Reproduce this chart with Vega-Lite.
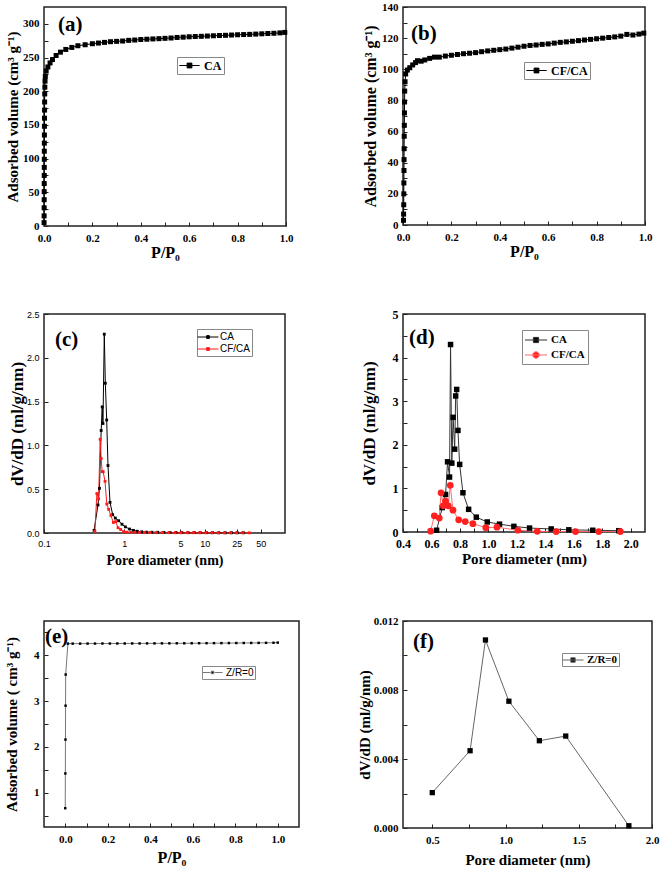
{
 "$schema": "https://vega.github.io/schema/vega-lite/v6.json",
 "background": "white",
 "padding": {"left": 3, "top": 0, "right": 0, "bottom": 0},
 "columns": 2,
 "align": "none",
 "bounds": "flush",
 "spacing": {"row": 88, "column": 104},
 "resolve": {"scale": {"x": "independent", "y": "independent", "color": "independent"}, "axis": {"x": "independent", "y": "independent"}, "legend": {"color": "independent"}},
 "config": {
  "view": {"stroke": "#222", "strokeWidth": 1.5},
  "axis": {"domain": false, "grid": false, "ticks": true, "tickSize": -4, "tickColor": "#222", "tickWidth": 1, "labelFlush": false,
   "labelFont": "Liberation Serif", "labelFontWeight": "bold", "labelFontSize": 11, "labelColor": "black", "labelPadding": 9,
   "titleFont": "Liberation Serif", "titleFontWeight": "bold", "titleColor": "black", "titleFontSize": 16},
  "axisX": {"labelPadding": 10},
  "legend": {"strokeColor": "#888", "fillColor": "white", "padding": 2, "labelFont": "Liberation Serif", "labelFontWeight": "bold", "labelFontSize": 12, "labelColor": "black", "symbolSize": 144, "symbolOffset": 4, "labelOffset": 8, "rowPadding": 2},
  "title": {"anchor": "start", "frame": "group", "baseline": "top", "font": "Liberation Serif", "fontWeight": "bold", "fontSize": 21, "color": "black", "offset": -28, "dx": 14}
 },
 "datasets": {
  "a": [
   {"p": 0.0003, "v": 5, "s": "CA"}, {"p": 0.0005, "v": 15, "s": "CA"}, {"p": 0.0006, "v": 27, "s": "CA"}, {"p": 0.0007, "v": 39, "s": "CA"},
   {"p": 0.0008, "v": 51, "s": "CA"}, {"p": 0.0009, "v": 63, "s": "CA"}, {"p": 0.001, "v": 75, "s": "CA"}, {"p": 0.0011, "v": 87, "s": "CA"},
   {"p": 0.0012, "v": 99, "s": "CA"}, {"p": 0.0013, "v": 111, "s": "CA"}, {"p": 0.0014, "v": 123, "s": "CA"}, {"p": 0.0016, "v": 135, "s": "CA"},
   {"p": 0.0018, "v": 148, "s": "CA"}, {"p": 0.002, "v": 160, "s": "CA"}, {"p": 0.0023, "v": 172, "s": "CA"}, {"p": 0.0026, "v": 184, "s": "CA"},
   {"p": 0.003, "v": 196, "s": "CA"}, {"p": 0.0035, "v": 206, "s": "CA"}, {"p": 0.0042, "v": 215, "s": "CA"}, {"p": 0.0055, "v": 222, "s": "CA"},
   {"p": 0.009, "v": 230, "s": "CA"}, {"p": 0.016, "v": 236, "s": "CA"}, {"p": 0.025, "v": 242, "s": "CA"}, {"p": 0.035, "v": 247, "s": "CA"},
   {"p": 0.05, "v": 253, "s": "CA"}, {"p": 0.068, "v": 258, "s": "CA"}, {"p": 0.09, "v": 262, "s": "CA"}, {"p": 0.115, "v": 265, "s": "CA"},
   {"p": 0.14, "v": 267.5, "s": "CA"}, {"p": 0.17, "v": 269, "s": "CA"}, {"p": 0.2, "v": 270.5, "s": "CA"}, {"p": 0.225, "v": 271.5, "s": "CA"},
   {"p": 0.25, "v": 272.5, "s": "CA"}, {"p": 0.275, "v": 273.5, "s": "CA"}, {"p": 0.3, "v": 274, "s": "CA"}, {"p": 0.325, "v": 274.5, "s": "CA"},
   {"p": 0.35, "v": 275.5, "s": "CA"}, {"p": 0.375, "v": 276, "s": "CA"}, {"p": 0.4, "v": 276.8, "s": "CA"}, {"p": 0.425, "v": 277.2, "s": "CA"},
   {"p": 0.45, "v": 277.6, "s": "CA"}, {"p": 0.475, "v": 278, "s": "CA"}, {"p": 0.5, "v": 278.5, "s": "CA"}, {"p": 0.525, "v": 279, "s": "CA"},
   {"p": 0.55, "v": 279.8, "s": "CA"}, {"p": 0.575, "v": 280.2, "s": "CA"}, {"p": 0.6, "v": 280.8, "s": "CA"}, {"p": 0.625, "v": 281.2, "s": "CA"},
   {"p": 0.65, "v": 281.5, "s": "CA"}, {"p": 0.675, "v": 281.9, "s": "CA"}, {"p": 0.7, "v": 282.3, "s": "CA"}, {"p": 0.725, "v": 282.7, "s": "CA"},
   {"p": 0.75, "v": 283, "s": "CA"}, {"p": 0.775, "v": 283.4, "s": "CA"}, {"p": 0.8, "v": 283.8, "s": "CA"}, {"p": 0.825, "v": 284.1, "s": "CA"},
   {"p": 0.85, "v": 284.4, "s": "CA"}, {"p": 0.875, "v": 284.8, "s": "CA"}, {"p": 0.9, "v": 285.2, "s": "CA"}, {"p": 0.925, "v": 285.7, "s": "CA"},
   {"p": 0.95, "v": 286, "s": "CA"}, {"p": 0.975, "v": 286.6, "s": "CA"}, {"p": 0.995, "v": 287.3, "s": "CA"}
  ],
  "b": [
   {"p": 0.002, "v": 3, "s": "CF/CA"}, {"p": 0.0025, "v": 7, "s": "CF/CA"}, {"p": 0.003, "v": 13, "s": "CF/CA"}, {"p": 0.0033, "v": 20, "s": "CF/CA"},
   {"p": 0.0036, "v": 27, "s": "CF/CA"}, {"p": 0.004, "v": 35, "s": "CF/CA"}, {"p": 0.0043, "v": 42, "s": "CF/CA"}, {"p": 0.0046, "v": 49, "s": "CF/CA"},
   {"p": 0.005, "v": 57, "s": "CF/CA"}, {"p": 0.0055, "v": 64, "s": "CF/CA"}, {"p": 0.006, "v": 72, "s": "CF/CA"}, {"p": 0.0065, "v": 79, "s": "CF/CA"},
   {"p": 0.007, "v": 86, "s": "CF/CA"}, {"p": 0.0085, "v": 92, "s": "CF/CA"}, {"p": 0.011, "v": 97, "s": "CF/CA"}, {"p": 0.018, "v": 99.5, "s": "CF/CA"},
   {"p": 0.028, "v": 101, "s": "CF/CA"}, {"p": 0.04, "v": 102.8, "s": "CF/CA"}, {"p": 0.052, "v": 104.3, "s": "CF/CA"}, {"p": 0.06, "v": 105.5, "s": "CF/CA"},
   {"p": 0.075, "v": 105.2, "s": "CF/CA"}, {"p": 0.09, "v": 106, "s": "CF/CA"}, {"p": 0.11, "v": 107, "s": "CF/CA"}, {"p": 0.13, "v": 107.8, "s": "CF/CA"},
   {"p": 0.15, "v": 107.8, "s": "CF/CA"}, {"p": 0.175, "v": 108.5, "s": "CF/CA"}, {"p": 0.2, "v": 109, "s": "CF/CA"}, {"p": 0.225, "v": 109.5, "s": "CF/CA"},
   {"p": 0.25, "v": 110, "s": "CF/CA"}, {"p": 0.275, "v": 110.3, "s": "CF/CA"}, {"p": 0.3, "v": 110.7, "s": "CF/CA"}, {"p": 0.325, "v": 111.3, "s": "CF/CA"},
   {"p": 0.35, "v": 111.8, "s": "CF/CA"}, {"p": 0.375, "v": 112.2, "s": "CF/CA"}, {"p": 0.4, "v": 112.6, "s": "CF/CA"}, {"p": 0.425, "v": 113, "s": "CF/CA"},
   {"p": 0.45, "v": 113.6, "s": "CF/CA"}, {"p": 0.475, "v": 114.2, "s": "CF/CA"}, {"p": 0.5, "v": 114.8, "s": "CF/CA"}, {"p": 0.525, "v": 115.3, "s": "CF/CA"},
   {"p": 0.55, "v": 115.6, "s": "CF/CA"}, {"p": 0.575, "v": 116, "s": "CF/CA"}, {"p": 0.6, "v": 116.3, "s": "CF/CA"}, {"p": 0.625, "v": 116.8, "s": "CF/CA"},
   {"p": 0.65, "v": 117.3, "s": "CF/CA"}, {"p": 0.675, "v": 117.6, "s": "CF/CA"}, {"p": 0.7, "v": 118, "s": "CF/CA"}, {"p": 0.725, "v": 118.4, "s": "CF/CA"},
   {"p": 0.75, "v": 118.8, "s": "CF/CA"}, {"p": 0.775, "v": 119.2, "s": "CF/CA"}, {"p": 0.8, "v": 119.6, "s": "CF/CA"}, {"p": 0.825, "v": 120, "s": "CF/CA"},
   {"p": 0.85, "v": 120.4, "s": "CF/CA"}, {"p": 0.875, "v": 120.8, "s": "CF/CA"}, {"p": 0.9, "v": 121.3, "s": "CF/CA"}, {"p": 0.925, "v": 122.4, "s": "CF/CA"},
   {"p": 0.95, "v": 122, "s": "CF/CA"}, {"p": 0.975, "v": 122.6, "s": "CF/CA"}, {"p": 0.995, "v": 123.2, "s": "CF/CA"}
  ],
  "c": [
   {"d": 0.42, "v": 0.03, "s": "CA"}, {"d": 0.47, "v": 0.32, "s": "CA"}, {"d": 0.49, "v": 0.51, "s": "CA"}, {"d": 0.515, "v": 1.17, "s": "CA"},
   {"d": 0.53, "v": 1.44, "s": "CA"}, {"d": 0.542, "v": 1.25, "s": "CA"}, {"d": 0.563, "v": 2.27, "s": "CA"}, {"d": 0.58, "v": 1.71, "s": "CA"},
   {"d": 0.603, "v": 1.29, "s": "CA"}, {"d": 0.626, "v": 0.77, "s": "CA"}, {"d": 0.663, "v": 0.35, "s": "CA"}, {"d": 0.716, "v": 0.21, "s": "CA"},
   {"d": 0.773, "v": 0.17, "s": "CA"}, {"d": 0.85, "v": 0.14, "s": "CA"}, {"d": 0.935, "v": 0.1, "s": "CA"}, {"d": 1.03, "v": 0.07, "s": "CA"},
   {"d": 1.16, "v": 0.045, "s": "CA"}, {"d": 1.3, "v": 0.03, "s": "CA"}, {"d": 1.45, "v": 0.02, "s": "CA"}, {"d": 1.64, "v": 0.013, "s": "CA"},
   {"d": 1.88, "v": 0.01, "s": "CA"}, {"d": 2.2, "v": 0.009, "s": "CA"}, {"d": 2.6, "v": 0.008, "s": "CA"}, {"d": 3.1, "v": 0.007, "s": "CA"},
   {"d": 3.7, "v": 0.006, "s": "CA"}, {"d": 4.4, "v": 0.006, "s": "CA"}, {"d": 5.2, "v": 0.005, "s": "CA"}, {"d": 6.2, "v": 0.005, "s": "CA"},
   {"d": 7.4, "v": 0.005, "s": "CA"}, {"d": 8.8, "v": 0.004, "s": "CA"}, {"d": 10.5, "v": 0.004, "s": "CA"}, {"d": 12.5, "v": 0.004, "s": "CA"},
   {"d": 15, "v": 0.003, "s": "CA"}, {"d": 18, "v": 0.003, "s": "CA"}, {"d": 21.5, "v": 0.003, "s": "CA"}, {"d": 25.5, "v": 0.003, "s": "CA"},
   {"d": 30.3, "v": 0.003, "s": "CA"},
   {"d": 0.43, "v": 0.02, "s": "CF/CA"}, {"d": 0.455, "v": 0.45, "s": "CF/CA"}, {"d": 0.478, "v": 0.39, "s": "CF/CA"}, {"d": 0.5, "v": 1.07, "s": "CF/CA"},
   {"d": 0.515, "v": 0.85, "s": "CF/CA"}, {"d": 0.53, "v": 0.7, "s": "CF/CA"}, {"d": 0.545, "v": 0.7, "s": "CF/CA"}, {"d": 0.575, "v": 0.59, "s": "CF/CA"},
   {"d": 0.605, "v": 0.33, "s": "CF/CA"}, {"d": 0.638, "v": 0.27, "s": "CF/CA"}, {"d": 0.68, "v": 0.2, "s": "CF/CA"}, {"d": 0.73, "v": 0.12, "s": "CF/CA"},
   {"d": 0.78, "v": 0.13, "s": "CF/CA"}, {"d": 0.835, "v": 0.06, "s": "CF/CA"}, {"d": 0.9, "v": 0.04, "s": "CF/CA"}, {"d": 0.98, "v": 0.015, "s": "CF/CA"},
   {"d": 1.07, "v": 0.01, "s": "CF/CA"}, {"d": 1.2, "v": 0.008, "s": "CF/CA"}, {"d": 1.35, "v": 0.007, "s": "CF/CA"}, {"d": 1.55, "v": 0.006, "s": "CF/CA"},
   {"d": 1.8, "v": 0.005, "s": "CF/CA"}, {"d": 2.1, "v": 0.005, "s": "CF/CA"}, {"d": 2.5, "v": 0.004, "s": "CF/CA"}, {"d": 3.0, "v": 0.004, "s": "CF/CA"},
   {"d": 3.6, "v": 0.004, "s": "CF/CA"}, {"d": 4.3, "v": 0.003, "s": "CF/CA"}, {"d": 5.1, "v": 0.003, "s": "CF/CA"}, {"d": 6.1, "v": 0.003, "s": "CF/CA"},
   {"d": 7.3, "v": 0.003, "s": "CF/CA"}, {"d": 8.7, "v": 0.003, "s": "CF/CA"}, {"d": 10.4, "v": 0.003, "s": "CF/CA"}, {"d": 12.4, "v": 0.002, "s": "CF/CA"},
   {"d": 14.8, "v": 0.002, "s": "CF/CA"}, {"d": 17.7, "v": 0.002, "s": "CF/CA"}, {"d": 21, "v": 0.002, "s": "CF/CA"}, {"d": 25, "v": 0.002, "s": "CF/CA"},
   {"d": 29.8, "v": 0.002, "s": "CF/CA"}, {"d": 36, "v": 0.002, "s": "CF/CA"}
  ],
  "d": [
   {"d": 0.636, "v": 0.04, "s": "CA"}, {"d": 0.676, "v": 0.56, "s": "CA"}, {"d": 0.699, "v": 0.86, "s": "CA"}, {"d": 0.713, "v": 1.61, "s": "CA"},
   {"d": 0.727, "v": 1.26, "s": "CA"}, {"d": 0.734, "v": 4.3, "s": "CA"}, {"d": 0.743, "v": 1.58, "s": "CA"}, {"d": 0.752, "v": 2.63, "s": "CA"},
   {"d": 0.763, "v": 1.9, "s": "CA"}, {"d": 0.77, "v": 3.12, "s": "CA"}, {"d": 0.777, "v": 3.27, "s": "CA"}, {"d": 0.786, "v": 2.33, "s": "CA"},
   {"d": 0.798, "v": 1.55, "s": "CA"}, {"d": 0.821, "v": 0.9, "s": "CA"}, {"d": 0.861, "v": 0.52, "s": "CA"}, {"d": 0.915, "v": 0.34, "s": "CA"},
   {"d": 0.992, "v": 0.23, "s": "CA"}, {"d": 1.078, "v": 0.18, "s": "CA"}, {"d": 1.179, "v": 0.13, "s": "CA"}, {"d": 1.289, "v": 0.09, "s": "CA"},
   {"d": 1.441, "v": 0.07, "s": "CA"}, {"d": 1.565, "v": 0.05, "s": "CA"}, {"d": 1.733, "v": 0.04, "s": "CA"}, {"d": 1.916, "v": 0.03, "s": "CA"},
   {"d": 0.594, "v": 0.02, "s": "CF/CA"}, {"d": 0.62, "v": 0.37, "s": "CF/CA"}, {"d": 0.655, "v": 0.32, "s": "CF/CA"}, {"d": 0.667, "v": 0.9, "s": "CF/CA"},
   {"d": 0.683, "v": 0.6, "s": "CF/CA"}, {"d": 0.699, "v": 0.71, "s": "CF/CA"}, {"d": 0.718, "v": 0.6, "s": "CF/CA"}, {"d": 0.732, "v": 1.07, "s": "CF/CA"},
   {"d": 0.751, "v": 0.5, "s": "CF/CA"}, {"d": 0.791, "v": 0.28, "s": "CF/CA"}, {"d": 0.837, "v": 0.24, "s": "CF/CA"}, {"d": 0.891, "v": 0.19, "s": "CF/CA"},
   {"d": 0.982, "v": 0.1, "s": "CF/CA"}, {"d": 1.06, "v": 0.11, "s": "CF/CA"}, {"d": 1.207, "v": 0.04, "s": "CF/CA"}, {"d": 1.343, "v": 0.015, "s": "CF/CA"},
   {"d": 1.476, "v": 0.01, "s": "CF/CA"}, {"d": 1.612, "v": 0.01, "s": "CF/CA"}, {"d": 1.775, "v": 0.01, "s": "CF/CA"}, {"d": 1.927, "v": 0.01, "s": "CF/CA"}
  ],
  "e": [
   {"p": 0.0, "v": 0.66, "s": "Z/R=0"}, {"p": 0.0005, "v": 1.42, "s": "Z/R=0"}, {"p": 0.001, "v": 2.16, "s": "Z/R=0"}, {"p": 0.0015, "v": 2.9, "s": "Z/R=0"},
   {"p": 0.002, "v": 3.58, "s": "Z/R=0"}, {"p": 0.0125, "v": 4.256, "s": "Z/R=0"}, {"p": 0.035, "v": 4.256, "s": "Z/R=0"}, {"p": 0.07, "v": 4.256, "s": "Z/R=0"},
   {"p": 0.105, "v": 4.257, "s": "Z/R=0"}, {"p": 0.14, "v": 4.257, "s": "Z/R=0"}, {"p": 0.175, "v": 4.258, "s": "Z/R=0"}, {"p": 0.21, "v": 4.258, "s": "Z/R=0"},
   {"p": 0.245, "v": 4.259, "s": "Z/R=0"}, {"p": 0.28, "v": 4.259, "s": "Z/R=0"}, {"p": 0.315, "v": 4.26, "s": "Z/R=0"}, {"p": 0.35, "v": 4.26, "s": "Z/R=0"},
   {"p": 0.385, "v": 4.261, "s": "Z/R=0"}, {"p": 0.42, "v": 4.261, "s": "Z/R=0"}, {"p": 0.455, "v": 4.262, "s": "Z/R=0"}, {"p": 0.49, "v": 4.262, "s": "Z/R=0"},
   {"p": 0.525, "v": 4.263, "s": "Z/R=0"}, {"p": 0.56, "v": 4.263, "s": "Z/R=0"}, {"p": 0.595, "v": 4.264, "s": "Z/R=0"}, {"p": 0.63, "v": 4.265, "s": "Z/R=0"},
   {"p": 0.665, "v": 4.265, "s": "Z/R=0"}, {"p": 0.7, "v": 4.266, "s": "Z/R=0"}, {"p": 0.735, "v": 4.267, "s": "Z/R=0"}, {"p": 0.77, "v": 4.268, "s": "Z/R=0"},
   {"p": 0.805, "v": 4.269, "s": "Z/R=0"}, {"p": 0.84, "v": 4.27, "s": "Z/R=0"}, {"p": 0.875, "v": 4.271, "s": "Z/R=0"}, {"p": 0.91, "v": 4.272, "s": "Z/R=0"},
   {"p": 0.945, "v": 4.273, "s": "Z/R=0"}, {"p": 0.98, "v": 4.275, "s": "Z/R=0"}, {"p": 1.0, "v": 4.278, "s": "Z/R=0"}
  ],
  "f": [
   {"d": 0.5, "v": 0.00205, "s": "Z/R=0"}, {"d": 0.758, "v": 0.00448, "s": "Z/R=0"}, {"d": 0.863, "v": 0.0109, "s": "Z/R=0"},
   {"d": 1.023, "v": 0.00735, "s": "Z/R=0"}, {"d": 1.231, "v": 0.00506, "s": "Z/R=0"}, {"d": 1.411, "v": 0.00533, "s": "Z/R=0"},
   {"d": 1.842, "v": 0.00013, "s": "Z/R=0"}
  ]
 },
 "concat": [
  {
   "width": 242, "height": 219,
   "title": {"text": "(a)"},
   "data": {"name": "a"},
   "encoding": {
    "x": {"field": "p", "type": "quantitative", "scale": {"domain": [0, 1], "nice": false, "zero": false},
      "axis": {"title": "P/P₀", "values": [0, 0.1, 0.2, 0.3, 0.4, 0.5, 0.6, 0.7, 0.8, 0.9, 1.0], "labelExpr": "round(datum.value*10)%2==0 ? format(datum.value, '.1f') : ''", "titlePadding": 1}},
    "y": {"field": "v", "type": "quantitative", "scale": {"domain": [0, 325], "nice": false},
      "axis": {"title": "Adsorbed volume (cm³ g⁻¹)", "values": [0, 25, 50, 75, 100, 125, 150, 175, 200, 225, 250, 275, 300], "labelExpr": "datum.value%50==0 ? '' + datum.value : ''", "titlePadding": 2, "titleFontSize": 15}}
   },
   "layer": [
    {"mark": {"type": "line", "strokeWidth": 1},
     "encoding": {"color": {"field": "s", "type": "nominal", "scale": {"domain": ["CA"], "range": ["black"]},
       "legend": {"title": null, "orient": "none", "legendX": 133, "legendY": 50,
        "encode": {"symbols": {"update": {"shape": {"value": "M-1.7,0H1.7M-0.4,-0.4H0.4V0.4H-0.4Z"}, "fill": {"value": "black"}, "stroke": {"value": "black"}, "strokeWidth": {"value": 1}, "opacity": {"value": 1}}}}}}}},
    {"mark": {"type": "point", "shape": "square", "filled": true, "size": 25, "color": "black", "opacity": 1}}
   ]
  },
  {
   "width": 242, "height": 218,
   "title": {"text": "(b)", "offset": -43, "dx": 8},
   "data": {"name": "b"},
   "encoding": {
    "x": {"field": "p", "type": "quantitative", "scale": {"domain": [0, 1], "nice": false, "zero": false},
      "axis": {"title": "P/P₀", "values": [0, 0.1, 0.2, 0.3, 0.4, 0.5, 0.6, 0.7, 0.8, 0.9, 1.0], "labelExpr": "round(datum.value*10)%2==0 ? format(datum.value, '.1f') : ''", "titlePadding": 1}},
    "y": {"field": "v", "type": "quantitative", "scale": {"domain": [0, 140], "nice": false},
      "axis": {"title": "Adsorbed volume (cm³ g⁻¹)", "values": [0, 10, 20, 30, 40, 50, 60, 70, 80, 90, 100, 110, 120, 130, 140], "labelExpr": "datum.value%20==0 ? '' + datum.value : ''", "titlePadding": 3}}
   },
   "layer": [
    {"mark": {"type": "line", "strokeWidth": 1},
     "encoding": {"color": {"field": "s", "type": "nominal", "scale": {"domain": ["CF/CA"], "range": ["black"]},
       "legend": {"title": null, "orient": "none", "legendX": 121, "legendY": 55,
        "encode": {"symbols": {"update": {"shape": {"value": "M-1.7,0H1.7M-0.4,-0.4H0.4V0.4H-0.4Z"}, "fill": {"value": "black"}, "stroke": {"value": "black"}, "strokeWidth": {"value": 1}, "opacity": {"value": 1}}}}}}}},
    {"mark": {"type": "point", "shape": "square", "filled": true, "size": 25, "color": "black", "opacity": 1}}
   ]
  },
  {
   "width": 241, "height": 219,
   "title": {"text": "(c)", "offset": -40, "dx": 11},
   "data": {"name": "c"},
   "encoding": {
    "x": {"field": "d", "type": "quantitative", "scale": {"type": "log", "domain": [0.1, 100], "nice": false},
      "axis": {"title": "Pore diameter (nm)", "values": [0.1, 1, 5, 10, 25, 50], "labelExpr": "'' + datum.value", "labelFont": "Liberation Sans", "labelFontWeight": "normal", "labelFontSize": 9, "titleFontSize": 14, "titlePadding": 5}},
    "y": {"field": "v", "type": "quantitative", "scale": {"domain": [0, 2.5], "nice": false},
      "axis": {"title": "dV/dD (ml/g/nm)", "values": [0, 0.5, 1, 1.5, 2, 2.5], "format": ".1f", "labelFont": "Liberation Sans", "labelFontWeight": "normal", "labelFontSize": 9, "titleFontSize": 17, "titlePadding": 0}}
   },
   "layer": [
    {"mark": {"type": "line", "strokeWidth": 1},
     "encoding": {"color": {"field": "s", "type": "nominal", "scale": {"domain": ["CA", "CF/CA"], "range": ["black", "#ff1a1a"]},
       "legend": {"title": null, "orient": "none", "legendX": 153, "legendY": 15, "labelFont": "Liberation Sans", "labelFontWeight": "normal", "labelFontSize": 10, "symbolSize": 121, "symbolOffset": 3, "labelOffset": 6, "padding": 2, "rowPadding": 1,
        "encode": {"symbols": {"update": {"shape": {"value": "M-1.9,0H1.9M-0.25,-0.25H0.25V0.25H-0.25Z"}, "fill": {"signal": "datum.value == 'CA' ? 'black' : '#ff1a1a'"}, "stroke": {"signal": "datum.value == 'CA' ? 'black' : '#ff1a1a'"}, "strokeWidth": {"value": 1}, "opacity": {"value": 1}}}}}}}},
    {"transform": [{"filter": "datum.s == 'CA'"}], "mark": {"type": "point", "shape": "square", "filled": true, "size": 8, "color": "black", "opacity": 1}},
    {"transform": [{"filter": "datum.s == 'CF/CA'"}], "mark": {"type": "point", "shape": "square", "filled": true, "size": 8, "color": "#ff1a1a", "opacity": 1}}
   ]
  },
  {
   "width": 242, "height": 218,
   "title": {"text": "(d)", "offset": -40, "dx": 6},
   "data": {"name": "d"},
   "encoding": {
    "x": {"field": "d", "type": "quantitative", "scale": {"domain": [0.4, 2.1], "nice": false, "zero": false},
      "axis": {"title": "Pore diameter (nm)", "values": [0.4, 0.5, 0.6, 0.7, 0.8, 0.9, 1.0, 1.1, 1.2, 1.3, 1.4, 1.5, 1.6, 1.7, 1.8, 1.9, 2.0], "labelExpr": "round(datum.value*10)%2==0 ? format(datum.value, '.1f') : ''", "labelFontSize": 12, "titleFontSize": 15, "titlePadding": 2}},
    "y": {"field": "v", "type": "quantitative", "scale": {"domain": [0, 5], "nice": false},
      "axis": {"title": "dV/dD (ml/g/nm)", "values": [0, 0.5, 1, 1.5, 2, 2.5, 3, 3.5, 4, 4.5, 5], "labelExpr": "datum.value%1==0 ? '' + datum.value : ''", "labelFontSize": 12, "titleFontSize": 17, "titlePadding": 14}}
   },
   "layer": [
    {"mark": {"type": "line", "strokeWidth": 1},
     "encoding": {"color": {"field": "s", "type": "nominal", "scale": {"domain": ["CA", "CF/CA"], "range": ["#333333", "#ff6a6a"]},
       "legend": {"title": null, "orient": "none", "legendX": 119, "legendY": 16, "labelFontSize": 11, "symbolSize": 169, "padding": 3, "rowPadding": 3,
        "encode": {"symbols": {"update": {"shape": {"signal": "datum.value == 'CA' ? 'M-1.7,0H1.7M-0.4,-0.4H0.4V0.4H-0.4Z' : 'M-1.7,0H1.7M0.5,0A0.5,0.5,0,1,1,-0.5,0A0.5,0.5,0,1,1,0.5,0Z'"}, "fill": {"signal": "datum.value == 'CA' ? 'black' : '#ff2020'"}, "stroke": {"signal": "datum.value == 'CA' ? '#333333' : '#ff6a6a'"}, "strokeWidth": {"value": 1}, "opacity": {"value": 1}}}}}}}},
    {"transform": [{"filter": "datum.s == 'CA'"}], "mark": {"type": "point", "shape": "square", "filled": true, "size": 30, "color": "black", "opacity": 1}},
    {"transform": [{"filter": "datum.s == 'CF/CA'"}], "mark": {"type": "point", "shape": "circle", "filled": true, "size": 45, "color": "#ff2020", "opacity": 1}}
   ]
  },
  {
   "width": 255, "height": 206,
   "title": {"text": "(e)", "dx": 1, "offset": -26},
   "data": {"name": "e"},
   "encoding": {
    "x": {"field": "p", "type": "quantitative", "scale": {"domain": [-0.1, 1.1], "nice": false, "zero": false},
      "axis": {"title": "P/P₀", "values": [0, 0.1, 0.2, 0.3, 0.4, 0.5, 0.6, 0.7, 0.8, 0.9, 1.0], "labelExpr": "round(datum.value*10)%2==0 ? format(datum.value, '.1f') : ''", "titlePadding": 5}},
    "y": {"field": "v", "type": "quantitative", "scale": {"domain": [0.25, 4.75], "nice": false, "zero": false},
      "axis": {"title": "Adsorbed volume ( cm³ g⁻¹)", "values": [0.5, 1, 1.5, 2, 2.5, 3, 3.5, 4, 4.5], "labelExpr": "datum.value%1==0 ? '' + datum.value : ''", "titlePadding": 14, "titleFontSize": 15}}
   },
   "layer": [
    {"mark": {"type": "line", "strokeWidth": 1},
     "encoding": {"color": {"field": "s", "type": "nominal", "scale": {"domain": ["Z/R=0"], "range": ["#777777"]},
       "legend": {"title": null, "orient": "none", "legendX": 158, "legendY": 45, "labelFont": "Liberation Sans", "labelFontWeight": "normal", "labelFontSize": 10, "symbolSize": 100, "padding": 1,
        "encode": {"symbols": {"update": {"shape": {"value": "M-2,0H-0.4M0.4,0H2M-0.25,-0.25H0.25V0.25H-0.25Z"}, "fill": {"value": "black"}, "stroke": {"value": "#666666"}, "strokeWidth": {"value": 1}, "opacity": {"value": 1}}}}}}}},
    {"mark": {"type": "point", "shape": "square", "filled": true, "size": 6, "color": "black", "opacity": 1}}
   ]
  },
  {
   "width": 249, "height": 207,
   "title": {"text": "(f)", "offset": -37, "dx": 10},
   "data": {"name": "f"},
   "encoding": {
    "x": {"field": "d", "type": "quantitative", "scale": {"domain": [0.3, 2.0], "nice": false, "zero": false},
      "axis": {"title": "Pore diameter (nm)", "values": [0.5, 0.75, 1.0, 1.25, 1.5, 1.75, 2.0], "labelExpr": "round(datum.value*4)%2==0 ? format(datum.value, '.1f') : ''", "titleFontSize": 15, "titlePadding": 7}},
    "y": {"field": "v", "type": "quantitative", "scale": {"domain": [0, 0.012], "nice": false},
      "axis": {"title": "dV/dD (ml/g/nm)", "values": [0, 0.002, 0.004, 0.006, 0.008, 0.01, 0.012], "labelExpr": "round(datum.value*1000)%4==0 ? format(datum.value, '.3f') : ''", "titleFontSize": 15, "titlePadding": 1}}
   },
   "layer": [
    {"mark": {"type": "line", "strokeWidth": 1},
     "encoding": {"color": {"field": "s", "type": "nominal", "scale": {"domain": ["Z/R=0"], "range": ["#666666"]},
       "legend": {"title": null, "orient": "none", "legendX": 159, "legendY": 32, "labelFontSize": 11, "symbolSize": 121, "padding": 1,
        "encode": {"symbols": {"update": {"shape": {"value": "M-1.9,0H1.9M-0.4,-0.4H0.4V0.4H-0.4Z"}, "fill": {"value": "black"}, "stroke": {"value": "#555555"}, "strokeWidth": {"value": 1}, "opacity": {"value": 1}}}}}}}},
    {"mark": {"type": "point", "shape": "square", "filled": true, "size": 28, "color": "black", "opacity": 1}}
   ]
  }
 ]
}
